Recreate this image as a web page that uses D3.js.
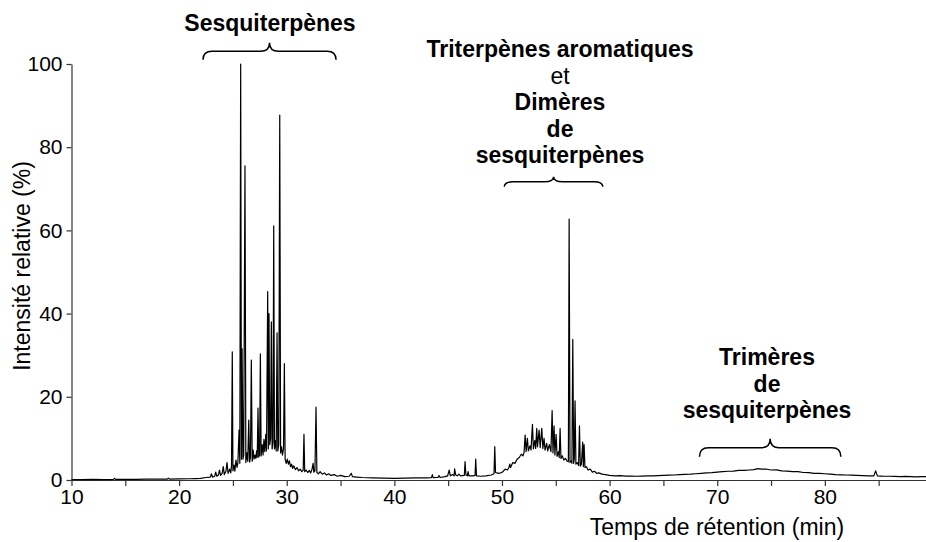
<!DOCTYPE html>
<html><head><meta charset="utf-8">
<script src="https://cdn.jsdelivr.net/npm/d3@7"></script>
<style>
body{margin:0;background:#fff}
svg{display:block}
text{font-family:"Liberation Sans",Arial,Helvetica,sans-serif;fill:#000}
</style>
</head><body><svg id="chart" width="926" height="542"></svg>
<script>
// ---- data (retention time in min, relative intensity in %) ----
const earlyBaseline = [[10,0.1],[11,0.1],[12,0.15],[13,0.1],[13.9,0.15],[14.0,0.4],[14.1,0.15],[15,0.15],[16,0.15],[17,0.2],[18,0.2],[18.9,0.2],[19.0,0.45],[19.1,0.2],[20,0.25],[21,0.3],[21.5,0.35]];
const sesquiRegion = [[22.0,0.4],[22.5,0.6],[22.9,0.7],[23.0,1.5],[23.1,0.7],[23.3,0.9],[23.4,1.9],[23.5,0.9],[23.65,1.2],[23.75,2.4],[23.85,1.1],[24.0,1.6],[24.1,3.2],[24.2,1.3],[24.35,2.1],[24.45,4.2],[24.55,1.6],[24.7,2.6],[24.8,1.7],[24.87,3.5],[24.94,30.8],[25.0,2.2],[25.1,3.6],[25.18,2.1],[25.28,4.8],[25.38,3.0],[25.46,4.2],[25.57,12.0],[25.64,4.0],[25.72,100],[25.79,5.0],[25.85,31.5],[25.93,5.0],[26.0,6.0],[26.12,75.5],[26.2,4.2],[26.3,6.5],[26.38,4.5],[26.47,14.4],[26.55,4.3],[26.63,5.5],[26.71,28.8],[26.79,4.5],[26.88,7.2],[26.96,5.0],[27.05,6.0],[27.13,5.2],[27.2,7.0],[27.26,5.5],[27.33,17.3],[27.4,5.5],[27.48,6.0],[27.55,30.3],[27.62,5.8],[27.72,8.5],[27.8,6.0],[27.88,9.8],[27.96,6.8],[28.05,11.0],[28.12,7.0],[28.23,45.3],[28.29,7.5],[28.35,40.0],[28.42,8.5],[28.5,10],[28.57,38.0],[28.64,7.5],[28.72,9.0],[28.79,61.1],[28.86,7.5],[28.95,9.5],[29.02,7.0],[29.1,35.4],[29.17,7.0],[29.26,8.5],[29.35,87.7],[29.43,6.5],[29.52,8.0],[29.6,6.0],[29.7,7.5],[29.78,28.0],[29.85,5.0],[29.95,4.0],[30.05,5.0],[30.15,3.8],[30.25,4.6],[30.35,3.2],[30.45,3.8],[30.55,2.8],[30.65,3.4],[30.8,2.5],[30.95,3.0],[31.1,2.2],[31.25,2.6],[31.4,2.0],[31.53,2.4],[31.6,11.0],[31.67,2.0],[31.8,2.4],[31.95,1.8],[32.1,2.3],[32.22,1.7],[32.35,2.6],[32.45,4.0],[32.52,1.9],[32.62,2.2],[32.72,17.5],[32.8,1.8],[32.95,1.5],[33.1,2.0],[33.3,1.4],[33.5,1.7],[33.7,1.2],[33.9,1.5],[34.1,1.1],[34.4,1.3],[34.7,0.9],[35.0,1.1],[35.4,0.8],[35.8,0.9],[36.0,1.6],[36.1,0.8],[36.5,0.7]];
const dimerRegion = [[37,0.6],[38,0.5],[39,0.45],[40,0.4],[41,0.45],[42,0.5],[43,0.5],[43.45,0.55],[43.53,1.3],[43.6,0.55],[44.05,0.6],[44.15,1.1],[44.25,0.6],[44.7,0.8],[44.95,1.0],[45.1,2.4],[45.2,1.0],[45.4,1.3],[45.55,1.0],[45.6,2.7],[45.7,1.2],[45.85,1.0],[46.0,1.4],[46.15,1.0],[46.5,1.1],[46.57,4.4],[46.65,1.2],[46.78,1.0],[46.85,2.0],[46.93,1.0],[47.3,1.0],[47.5,1.1],[47.56,5.0],[47.63,1.0],[48.0,0.9],[48.5,1.0],[49.0,1.2],[49.26,1.5],[49.33,8.0],[49.4,1.8],[49.7,1.6],[50.0,1.8],[50.3,2.6],[50.5,2.4],[50.65,3.0],[50.72,3.8],[50.8,3.0],[51.0,4.2],[51.2,4.0],[51.4,5.0],[51.6,5.4],[51.8,6.2],[51.95,5.8],[52.05,6.6],[52.15,10.8],[52.24,6.8],[52.36,10.0],[52.45,7.0],[52.6,8.2],[52.7,7.2],[52.83,13.4],[52.92,7.5],[53.05,9.5],[53.13,7.6],[53.23,12.4],[53.3,8.0],[53.45,12.0],[53.55,7.8],[53.7,12.4],[53.8,7.6],[53.91,10.0],[54.0,7.2],[54.15,8.8],[54.25,7.0],[54.4,8.5],[54.55,6.8],[54.66,16.7],[54.74,6.5],[54.84,13.0],[54.92,6.0],[55.03,11.0],[55.12,5.7],[55.25,6.8],[55.32,5.4],[55.4,12.4],[55.48,5.2],[55.6,5.8],[55.75,4.8],[55.9,5.2],[56.05,4.5],[56.17,4.4],[56.24,62.7],[56.32,4.2],[56.42,4.6],[56.5,4.0],[56.58,33.8],[56.66,4.0],[56.72,5.0],[56.79,19.0],[56.87,3.8],[57.0,4.2],[57.12,3.5],[57.2,13.0],[57.28,3.3],[57.38,3.8],[57.5,9.1],[57.56,3.2],[57.63,8.5],[57.71,3.0],[57.85,3.2],[58.0,2.4],[58.2,2.6],[58.4,1.9],[58.6,2.1],[58.8,1.6],[59.0,1.7],[59.3,1.4],[59.6,1.3],[60.0,1.1]];
const trimerRegion = [[60.5,1.0],[61,1.05],[61.5,0.95],[62,0.95],[62.5,0.9],[63,0.95],[63.5,1.0],[64,1.0],[64.5,1.05],[65,1.1],[65.5,1.15],[66,1.2],[66.5,1.3],[67,1.35],[67.5,1.4],[68,1.5],[68.5,1.6],[69,1.7],[69.5,1.75],[70,1.9],[70.5,2.0],[71,2.1],[71.5,2.15],[72,2.3],[72.5,2.3],[73,2.4],[73.4,2.5],[73.8,2.75],[74.1,2.6],[74.5,2.65],[75,2.4],[75.5,2.45],[76,2.2],[76.5,2.15],[77,2.0],[77.5,2.0],[78,1.8],[78.5,1.75],[79,1.6],[79.5,1.6],[80,1.5],[80.5,1.4],[81,1.3],[81.5,1.25],[82,1.2],[82.5,1.15],[83,1.1],[83.5,1.05],[84,1.0],[84.55,1.0],[84.72,2.2],[84.88,1.0],[85.2,0.95],[85.5,0.9],[86,0.9],[86.5,0.85],[87,0.8],[87.5,0.85],[88,0.8],[88.5,0.75],[89,0.8],[89.4,0.8]];

const xTicks = [10,15,20,25,30,35,40,45,50,55,60,65,70,75,80,85];
const xTickLabels = [10,20,30,40,50,60,70,80];
const yTicks = [0,20,40,60,80,100];

const groupLines = [["Sesquiterpènes"],["Triterpènes aromatiques","et","Dimères","de","sesquiterpènes"],["Trimères","de","sesquiterpènes"]];
const groupStart = [22.22, 50.22, 68.35];
const groupEnd = [34.58, 59.37, 81.49];
const groupLevel = [101, 70.5, 5.6];

const xTitle = "Temps de rétention (min)";
const yTitle = "Intensité relative (%)";

// ---- layout ----
const W = 926, H = 542;
const x = d3.scaleLinear().domain([10, 89.4]).range([71.5, 926]);
const y = d3.scaleLinear().domain([0, 100]).range([480, 64]);
const svg = d3.select("#chart");
const axisColor = "#333";

const xAxis = d3.axisBottom(x).tickValues(xTicks).tickSize(6).tickSizeOuter(0).tickPadding(3)
  .tickFormat(d => xTickLabels.includes(d) ? d : "");
const gx = svg.append("g").attr("transform", `translate(0,${y(0)})`).call(xAxis);
gx.select(".domain").attr("stroke", axisColor).attr("stroke-width", 1.2);
gx.selectAll(".tick line").attr("stroke", axisColor).attr("stroke-width", 1.2);
gx.selectAll(".tick text").attr("font-size", 21).attr("font-family", "Liberation Sans, Arial, sans-serif").attr("fill", "#000");

const yAxis = d3.axisLeft(y).tickValues(yTicks).tickSize(5).tickSizeOuter(0).tickPadding(4);
const gy = svg.append("g").attr("transform", `translate(${x(10)},0)`).call(yAxis);
gy.select(".domain").attr("stroke", axisColor).attr("stroke-width", 1.2);
gy.selectAll(".tick line").attr("stroke", axisColor).attr("stroke-width", 1.2);
gy.selectAll(".tick text").attr("font-size", 21).attr("font-family", "Liberation Sans, Arial, sans-serif").attr("fill", "#000");

// chromatogram
const trace = earlyBaseline.concat(sesquiRegion, dimerRegion, trimerRegion);
svg.append("path").datum(trace)
  .attr("fill", "none").attr("stroke", "#000").attr("stroke-width", 1.2).attr("stroke-linejoin", "round")
  .attr("d", d3.line().x(d => x(d[0])).y(d => y(d[1])));

// axis titles
svg.append("text").attr("x", 717).attr("y", 535).attr("text-anchor", "middle").attr("font-size", 23).text(xTitle);
svg.append("text").attr("transform", "translate(30,266) rotate(-90)").attr("text-anchor", "middle").attr("font-size", 23).text(yTitle);

// braces + labels
const braceH = [[8.5, 8.5], [5, 5], [9, 9]];
const labelCx = [270, 560, 767];
const labelBase = [31, 57, 365];
const lineH = 26.5;
function bracePath(x0, x1, yb, h1, h2) {
  const xc = (x0 + x1) / 2, r = 9, yh = yb - h1, yt = yh - h2;
  return `M${x0},${yb} Q${x0},${yh} ${x0 + r},${yh} L${xc - r},${yh} Q${xc},${yh} ${xc},${yt} Q${xc},${yh} ${xc + r},${yh} L${x1 - r},${yh} Q${x1},${yh} ${x1},${yb}`;
}
groupLines.forEach((lines, i) => {
  svg.append("path")
    .attr("d", bracePath(x(groupStart[i]), x(groupEnd[i]), y(groupLevel[i]), braceH[i][0], braceH[i][1]))
    .attr("fill", "none").attr("stroke", "#000").attr("stroke-width", 1.5);
  const t = svg.append("text").attr("text-anchor", "middle").attr("font-size", 23);
  lines.forEach((ln, j) => {
    t.append("tspan").attr("x", labelCx[i]).attr("y", labelBase[i] + j * lineH)
      .attr("font-weight", ln === "et" ? "normal" : "bold").text(ln);
  });
});
</script>
</body></html>
